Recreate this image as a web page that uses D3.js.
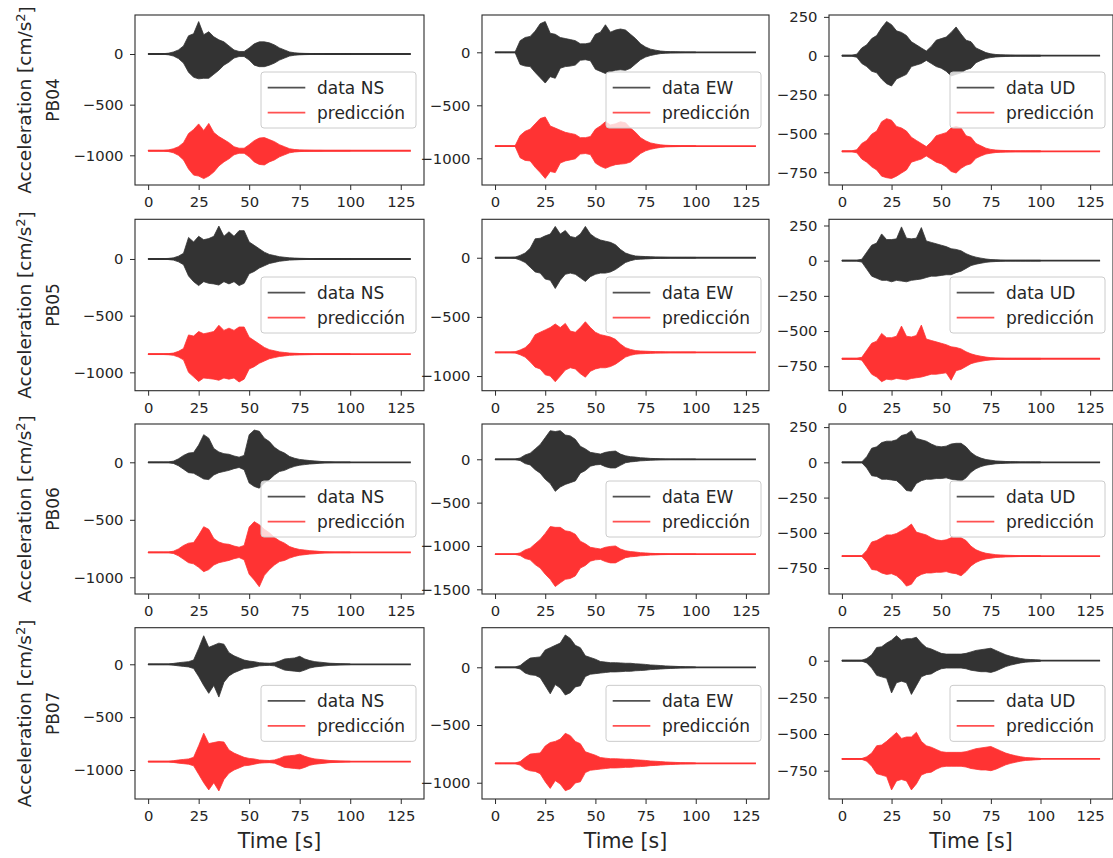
<!DOCTYPE html>
<html>
<head>
<meta charset="utf-8">
<script src="https://cdn.jsdelivr.net/npm/d3@7"></script>
<style>
  body { margin: 0; background: #fff; }
  svg { display: block; font-family: "DejaVu Sans", sans-serif; }
</style>
</head>
<body>
<div id="chart"></div>
<script>
// stations (rows) and components (columns)
const stations = ["PB04", "PB05", "PB06", "PB07"];
const comps = ["NS", "EW", "UD"];

// sampling grid of the envelopes [s]; traces run flat to 130 s after it
const tGrid = [0,2.5,5,7.5,10,12.5,15,17.5,20,22.5,25,27.5,30,32.5,35,37.5,40,42.5,45,47.5,50,52.5,55,57.5,60,62.5,65,67.5,70,72.5,75,77.5,80,82.5,85,87.5,90,92.5,95,97.5,100];
const tEnd = 130;
const xTicks = [0, 25, 50, 75, 100, 125];

// prediction traces are drawn shifted down by this offset [cm/s2]
const predOffset = [[-955, -885, -615], [-840, -800, -697], [-783, -1095, -665], [-920, -832, -670]];
// y limits of each panel
const yLimits = [
  [[-1293, 385], [-1252, 352], [-832, 262]],
  [[-1162, 350], [-1124, 325], [-924, 294]],
  [[-1145, 333], [-1554, 407], [-934, 272]],
  [[-1274, 346], [-1141, 343], [-943, 225]]
];

// envelopes (upper / lower peak per 2.5 s), data and prediction
const pb04_ns_up  = [3,3,3,3,8,20,40,80,180,200,320,190,220,170,140,120,80,40,25,25,60,100,120,120,110,90,60,40,20,12,8,6,5,4,4,3,3,3,3,3,3];
const pb04_ns_dn  = [-3,-3,-3,-3,-8,-20,-45,-90,-180,-230,-245,-240,-240,-200,-160,-110,-80,-40,-25,-25,-60,-110,-125,-125,-110,-90,-60,-40,-20,-12,-8,-6,-5,-4,-4,-3,-3,-3,-3,-3,-3];
const pb04_ns_pup = [3,3,3,3,8,20,40,80,170,210,265,200,270,180,140,110,80,40,25,25,60,100,125,130,110,90,60,40,20,12,8,6,5,4,4,3,3,3,3,3,3];
const pb04_ns_pdn = [-3,-3,-3,-3,-8,-20,-45,-90,-180,-240,-250,-275,-250,-210,-150,-110,-80,-40,-25,-25,-60,-110,-135,-140,-110,-90,-60,-40,-20,-12,-8,-6,-5,-4,-4,-3,-3,-3,-3,-3,-3];

const pb04_ew_up  = [3,3,3,3,3,110,140,150,200,270,290,180,170,140,130,120,110,80,80,90,170,190,260,190,210,220,210,170,130,80,50,30,20,12,8,6,5,4,3,3,3];
const pb04_ew_dn  = [-3,-3,-3,-3,-3,-115,-130,-135,-190,-240,-290,-230,-245,-150,-135,-130,-120,-75,-70,-80,-160,-180,-200,-185,-170,-165,-170,-150,-110,-70,-45,-30,-20,-12,-8,-6,-5,-4,-3,-3,-3];
const pb04_ew_pup = [3,3,3,3,3,100,140,160,210,260,275,190,170,150,130,120,110,80,80,90,160,190,230,200,210,230,220,170,130,80,50,30,20,12,8,6,5,4,3,3,3];
const pb04_ew_pdn = [-3,-3,-3,-3,-3,-110,-135,-140,-200,-250,-305,-240,-250,-160,-140,-130,-120,-75,-70,-80,-160,-190,-210,-190,-175,-170,-165,-150,-110,-70,-45,-30,-20,-12,-8,-6,-5,-4,-3,-3,-3];

const pb04_ud_up  = [3,3,3,10,50,70,110,130,180,220,200,160,150,130,90,70,50,30,60,100,110,120,150,185,140,100,90,50,35,20,12,8,6,5,4,3,3,3,3,3,3];
const pb04_ud_dn  = [-3,-3,-3,-10,-50,-70,-100,-110,-150,-180,-195,-150,-135,-120,-70,-60,-50,-30,-50,-70,-80,-100,-130,-120,-110,-90,-80,-45,-30,-18,-12,-8,-6,-5,-4,-3,-3,-3,-3,-3,-3];
const pb04_ud_pup = [3,3,3,10,50,70,110,130,190,210,200,160,150,130,90,70,50,30,60,100,110,120,150,160,150,100,90,50,35,20,12,8,6,5,4,3,3,3,3,3,3];
const pb04_ud_pdn = [-3,-3,-3,-10,-50,-70,-100,-120,-160,-170,-175,-160,-140,-120,-70,-60,-50,-30,-50,-70,-80,-100,-130,-140,-110,-90,-80,-45,-30,-18,-12,-8,-6,-5,-4,-3,-3,-3,-3,-3,-3];

const pb05_ns_up  = [3,3,3,3,5,10,25,50,190,150,200,170,180,200,290,200,240,200,250,250,150,120,90,60,40,30,20,15,10,8,6,5,4,3,3,3,3,3,3,3,3];
const pb05_ns_dn  = [-3,-3,-3,-3,-5,-10,-25,-50,-150,-200,-235,-200,-215,-220,-230,-200,-220,-200,-235,-215,-130,-110,-80,-60,-40,-30,-20,-15,-10,-8,-6,-5,-4,-3,-3,-3,-3,-3,-3,-3,-3];
const pb05_ns_pup = [3,3,3,3,5,10,25,50,170,160,200,180,190,200,255,210,230,210,240,240,150,120,90,60,40,30,20,15,10,8,6,5,4,3,3,3,3,3,3,3,3];
const pb05_ns_pdn = [-3,-3,-3,-3,-5,-10,-25,-50,-160,-200,-240,-210,-215,-220,-230,-210,-220,-210,-245,-220,-130,-110,-80,-60,-40,-30,-20,-15,-10,-8,-6,-5,-4,-3,-3,-3,-3,-3,-3,-3,-3];

const pb05_ew_up  = [3,3,3,3,5,20,40,80,160,165,185,200,265,200,230,180,170,200,265,200,170,150,140,130,110,70,40,25,15,12,10,8,6,5,4,3,3,3,3,3,3];
const pb05_ew_dn  = [-3,-3,-3,-3,-5,-20,-40,-80,-120,-130,-180,-190,-260,-190,-140,-130,-140,-170,-200,-160,-140,-130,-130,-120,-100,-70,-40,-25,-15,-12,-10,-8,-6,-5,-4,-3,-3,-3,-3,-3,-3];
const pb05_ew_pup = [3,3,3,3,5,20,40,80,150,170,190,210,240,210,245,180,170,210,259,210,170,150,140,130,110,70,40,25,15,12,10,8,6,5,4,3,3,3,3,3,3];
const pb05_ew_pdn = [-3,-3,-3,-3,-5,-20,-40,-80,-125,-140,-190,-200,-248,-200,-150,-130,-140,-180,-210,-160,-140,-130,-130,-120,-100,-70,-40,-25,-15,-12,-10,-8,-6,-5,-4,-3,-3,-3,-3,-3,-3];

const pb05_ud_up  = [3,3,3,3,10,60,110,125,190,150,150,155,240,160,155,160,235,140,130,120,110,100,85,80,70,50,35,25,18,12,8,6,4,3,3,3,3,3,3,3,3];
const pb05_ud_dn  = [-3,-3,-3,-3,-10,-60,-110,-125,-140,-140,-150,-140,-145,-150,-140,-135,-130,-120,-110,-110,-105,-100,-100,-85,-75,-55,-35,-25,-18,-12,-8,-6,-4,-3,-3,-3,-3,-3,-3,-3,-3];
const pb05_ud_pup = [3,3,3,3,10,60,110,125,180,150,150,160,232,160,155,165,239,140,130,120,110,100,85,80,70,50,35,25,18,12,8,6,4,3,3,3,3,3,3,3,3];
const pb05_ud_pdn = [-3,-3,-3,-3,-10,-60,-110,-130,-163,-145,-150,-140,-145,-150,-140,-135,-130,-120,-110,-110,-105,-100,-152,-85,-75,-55,-35,-25,-18,-12,-8,-6,-4,-3,-3,-3,-3,-3,-3,-3,-3];

const pb06_ns_up  = [3,3,3,3,3,10,30,60,80,85,150,240,210,120,90,75,70,55,45,60,240,280,270,210,180,130,100,80,50,35,25,20,15,12,8,5,4,3,3,3,3];
const pb06_ns_dn  = [-3,-3,-3,-3,-3,-10,-30,-60,-90,-95,-120,-145,-150,-110,-90,-80,-70,-55,-45,-65,-180,-210,-225,-180,-150,-110,-80,-70,-50,-35,-25,-20,-15,-12,-8,-5,-4,-3,-3,-3,-3];
const pb06_ns_pup = [3,3,3,3,3,10,30,60,80,85,150,223,200,120,90,75,70,55,45,60,220,267,240,200,170,130,100,80,50,35,25,20,15,12,8,5,4,3,3,3,3];
const pb06_ns_pdn = [-3,-3,-3,-3,-3,-10,-30,-60,-90,-100,-130,-168,-150,-110,-90,-80,-70,-55,-45,-65,-190,-240,-299,-200,-150,-110,-80,-70,-50,-35,-25,-20,-15,-12,-8,-5,-4,-3,-3,-3,-3];

const pb06_ew_up  = [3,3,3,3,3,15,50,70,120,170,250,330,320,330,280,270,230,150,120,80,70,60,80,90,95,60,40,30,25,18,15,10,8,5,4,3,3,3,3,3,3];
const pb06_ew_dn  = [-3,-3,-3,-3,-3,-15,-50,-65,-120,-160,-230,-280,-370,-320,-290,-270,-250,-160,-130,-80,-65,-60,-85,-100,-100,-70,-40,-30,-25,-18,-15,-10,-8,-5,-4,-3,-3,-3,-3,-3,-3];
const pb06_ew_pup = [3,3,3,3,3,15,50,70,120,170,240,319,310,310,270,260,230,150,120,80,70,60,80,90,95,60,40,30,25,18,15,10,8,5,4,3,3,3,3,3,3];
const pb06_ew_pdn = [-3,-3,-3,-3,-3,-15,-50,-65,-120,-160,-230,-290,-373,-330,-290,-280,-250,-160,-130,-80,-65,-60,-85,-100,-100,-70,-40,-30,-25,-18,-15,-10,-8,-5,-4,-3,-3,-3,-3,-3,-3];

const pb06_ud_up  = [3,3,3,3,3,40,100,110,140,150,150,160,190,200,225,170,160,150,130,115,110,115,130,135,135,110,70,45,30,20,15,10,8,6,5,4,3,3,3,3,3];
const pb06_ud_dn  = [-3,-3,-3,-3,-3,-40,-95,-100,-120,-120,-125,-130,-160,-200,-205,-150,-130,-120,-120,-115,-115,-110,-120,-125,-135,-110,-70,-45,-30,-20,-15,-10,-8,-6,-5,-4,-3,-3,-3,-3,-3];
const pb06_ud_pup = [3,3,3,3,3,40,100,110,130,150,150,160,180,200,227,170,160,150,130,115,110,115,130,130,130,110,70,45,30,20,15,10,8,6,5,4,3,3,3,3,3];
const pb06_ud_pdn = [-3,-3,-3,-3,-3,-40,-95,-100,-120,-130,-125,-140,-170,-213,-200,-150,-130,-120,-120,-115,-115,-110,-120,-125,-140,-110,-70,-45,-30,-20,-15,-10,-8,-6,-5,-4,-3,-3,-3,-3,-3];

const pb07_ns_up  = [3,3,3,3,3,8,15,20,25,40,150,270,160,180,200,190,110,80,60,40,30,25,15,12,10,15,30,50,55,60,75,50,35,25,20,15,10,8,6,4,3];
const pb07_ns_dn  = [-3,-3,-3,-3,-3,-8,-15,-20,-25,-40,-115,-200,-275,-200,-310,-170,-110,-80,-60,-40,-35,-25,-15,-12,-10,-15,-35,-55,-60,-65,-70,-55,-35,-25,-20,-15,-10,-8,-6,-4,-3];
const pb07_ns_pup = [3,3,3,3,3,8,15,20,25,40,150,268,170,180,190,185,110,80,60,40,30,25,15,12,10,15,30,50,55,60,70,50,35,25,20,15,10,8,6,4,3];
const pb07_ns_pdn = [-3,-3,-3,-3,-3,-8,-15,-20,-25,-40,-120,-200,-268,-200,-278,-170,-110,-80,-60,-40,-35,-25,-15,-12,-10,-15,-35,-55,-60,-65,-70,-55,-35,-25,-20,-15,-10,-8,-6,-4,-3];

const pb07_ew_up  = [3,3,3,3,3,15,50,80,85,90,150,170,190,210,280,250,190,170,100,85,70,50,45,40,40,38,35,35,30,28,25,20,18,15,12,10,8,6,5,4,3];
const pb07_ew_dn  = [-3,-3,-3,-3,-3,-15,-50,-65,-70,-90,-160,-230,-150,-180,-240,-220,-170,-160,-80,-60,-55,-50,-45,-40,-40,-38,-35,-35,-30,-28,-25,-20,-18,-15,-12,-10,-8,-6,-5,-4,-3];
const pb07_ew_pup = [3,3,3,3,3,15,50,80,85,90,150,180,190,210,260,240,190,170,100,85,70,50,45,40,40,38,35,35,30,28,25,20,18,15,12,10,8,6,5,4,3];
const pb07_ew_pdn = [-3,-3,-3,-3,-3,-15,-50,-65,-70,-90,-160,-217,-150,-180,-237,-220,-170,-160,-80,-60,-55,-50,-45,-40,-40,-38,-35,-35,-30,-28,-25,-20,-18,-15,-12,-10,-8,-6,-5,-4,-3];

const pb07_ud_up  = [3,3,3,3,3,15,40,90,95,120,140,170,140,150,150,160,120,90,80,65,50,45,45,45,45,50,60,70,75,80,85,70,55,40,30,22,15,10,8,6,4];
const pb07_ud_dn  = [-3,-3,-3,-3,-3,-15,-50,-100,-110,-120,-220,-150,-140,-150,-230,-170,-110,-95,-90,-70,-55,-50,-50,-50,-50,-55,-65,-70,-75,-75,-80,-70,-55,-40,-30,-22,-15,-10,-8,-6,-4];
const pb07_ud_pup = [3,3,3,3,3,15,40,90,95,120,150,180,140,150,150,182,120,90,80,65,50,45,45,45,45,50,60,70,75,80,85,70,55,40,30,22,15,10,8,6,4];
const pb07_ud_pdn = [-3,-3,-3,-3,-3,-15,-50,-100,-110,-120,-211,-150,-140,-150,-211,-170,-110,-95,-90,-70,-55,-50,-50,-50,-50,-55,-65,-70,-75,-75,-80,-70,-55,-40,-30,-22,-15,-10,-8,-6,-4];

// lookup [row][col] -> [dataUp, dataDn, predUp, predDn]
const traces = [
  [[pb04_ns_up, pb04_ns_dn, pb04_ns_pup, pb04_ns_pdn], [pb04_ew_up, pb04_ew_dn, pb04_ew_pup, pb04_ew_pdn], [pb04_ud_up, pb04_ud_dn, pb04_ud_pup, pb04_ud_pdn]],
  [[pb05_ns_up, pb05_ns_dn, pb05_ns_pup, pb05_ns_pdn], [pb05_ew_up, pb05_ew_dn, pb05_ew_pup, pb05_ew_pdn], [pb05_ud_up, pb05_ud_dn, pb05_ud_pup, pb05_ud_pdn]],
  [[pb06_ns_up, pb06_ns_dn, pb06_ns_pup, pb06_ns_pdn], [pb06_ew_up, pb06_ew_dn, pb06_ew_pup, pb06_ew_pdn], [pb06_ud_up, pb06_ud_dn, pb06_ud_pup, pb06_ud_pdn]],
  [[pb07_ns_up, pb07_ns_dn, pb07_ns_pup, pb07_ns_pdn], [pb07_ew_up, pb07_ew_dn, pb07_ew_pup, pb07_ew_pdn], [pb07_ud_up, pb07_ud_dn, pb07_ud_pup, pb07_ud_pdn]]
];

// layout
const W = 1113, H = 858;
const colLeft = [135, 482, 829], colWidth = [289, 287, 284];
const rowTop = [15, 219.3, 424, 627.7], rowHeight = [170, 171.4, 170, 171.3];
const dataColor = "#333333", predColor = "#ff3333", axisColor = "#2b2b2b";

const svg = d3.select("#chart").append("svg")
  .attr("width", W).attr("height", H);

stations.forEach((st, r) => {
  comps.forEach((comp, c) => {
    const w = colWidth[c], h = rowHeight[r];
    const g = svg.append("g").attr("transform", `translate(${colLeft[c]},${rowTop[r]})`);

    const x = d3.scaleLinear().domain([-6.5, tEnd + 6.5]).range([0, w]);
    const y = d3.scaleLinear().domain(yLimits[r][c]).range([h, 0]);

    const [dUp, dDn, pUp, pDn] = traces[r][c];
    const off = predOffset[r][c];

    const area = d3.area()
      .x(d => x(d.t)).y0(d => y(d.lo)).y1(d => y(d.hi));

    // data trace
    g.append("line")
      .attr("x1", x(0)).attr("x2", x(tEnd)).attr("y1", y(0)).attr("y2", y(0))
      .attr("stroke", dataColor).attr("stroke-width", 1.8);
    g.append("path")
      .datum(tGrid.map((t, i) => ({ t: t, hi: dUp[i], lo: dDn[i] })))
      .attr("d", area).attr("fill", dataColor).attr("stroke", dataColor).attr("stroke-width", 0.8);

    // prediction trace
    g.append("line")
      .attr("x1", x(0)).attr("x2", x(tEnd)).attr("y1", y(off)).attr("y2", y(off))
      .attr("stroke", predColor).attr("stroke-width", 1.8);
    g.append("path")
      .datum(tGrid.map((t, i) => ({ t: t, hi: off + pUp[i], lo: off + pDn[i] })))
      .attr("d", area).attr("fill", predColor).attr("stroke", predColor).attr("stroke-width", 0.8);

    // axes
    const yStep = c === 2 ? 250 : 500;
    const dom = yLimits[r][c];
    const yTicks = d3.range(Math.ceil(dom[0] / yStep) * yStep, dom[1] + 1, yStep);

    const xa = g.append("g").attr("transform", `translate(0,${h})`)
      .call(d3.axisBottom(x).tickValues(xTicks).tickFormat(d3.format("d")).tickSize(5).tickPadding(6.5));
    const ya = g.append("g")
      .call(d3.axisLeft(y).tickValues(yTicks).tickFormat(d3.format("d")).tickSize(5).tickPadding(6.5));
    [xa, ya].forEach(a => {
      a.select(".domain").remove();
      a.selectAll("line").attr("stroke", axisColor);
      a.selectAll("text").attr("fill", "#262626").style("font-size", "14.8px")
        .style("font-family", "DejaVu Sans, sans-serif");
    });

    g.append("rect").attr("width", w).attr("height", h)
      .attr("fill", "none").attr("stroke", axisColor).attr("stroke-width", 1.1);

    // legend
    const lw = 155, lh = 56;
    const lg = g.append("g").attr("transform", `translate(${w - 8 - lw},${h / 2 - lh / 2})`);
    lg.append("rect").attr("width", lw).attr("height", lh).attr("rx", 3)
      .attr("fill", "#fff").attr("fill-opacity", 0.8)
      .attr("stroke", "#cccccc").attr("stroke-width", 1);
    const items = [["data " + comp, dataColor], ["predicción", predColor]];
    items.forEach((it, i) => {
      const yy = 15.6 + i * 25;
      lg.append("line").attr("x1", 6.7).attr("x2", 44.3).attr("y1", yy).attr("y2", yy)
        .attr("stroke", it[1]).attr("stroke-width", 1.8).attr("stroke-opacity", 0.85);
      lg.append("text").attr("x", 56).attr("y", yy).attr("dy", "0.36em")
        .attr("fill", "#262626").style("font-size", "17px").text(it[0]);
    });

    // y label on first column
    if (c === 0) {
      const yc = h / 2;
      const t1 = g.append("text")
        .attr("transform", `translate(${31 - colLeft[0]},${yc}) rotate(-90)`)
        .attr("text-anchor", "middle").attr("fill", "#262626").style("font-size", "18.5px");
      t1.append("tspan").text("Acceleration [cm/s");
      t1.append("tspan").attr("dy", "-0.45em").style("font-size", "13px").text("2");
      t1.append("tspan").attr("dy", "0.45em").text("]");
      g.append("text")
        .attr("transform", `translate(${59.3 - colLeft[0]},${yc}) rotate(-90)`)
        .attr("text-anchor", "middle").attr("fill", "#262626").style("font-size", "17px")
        .text(st);
    }

    // x label on last row
    if (r === stations.length - 1) {
      g.append("text").attr("x", w / 2).attr("y", h + 49)
        .attr("text-anchor", "middle").attr("fill", "#262626").style("font-size", "20.5px")
        .text("Time [s]");
    }
  });
});
</script>
</body>
</html>
